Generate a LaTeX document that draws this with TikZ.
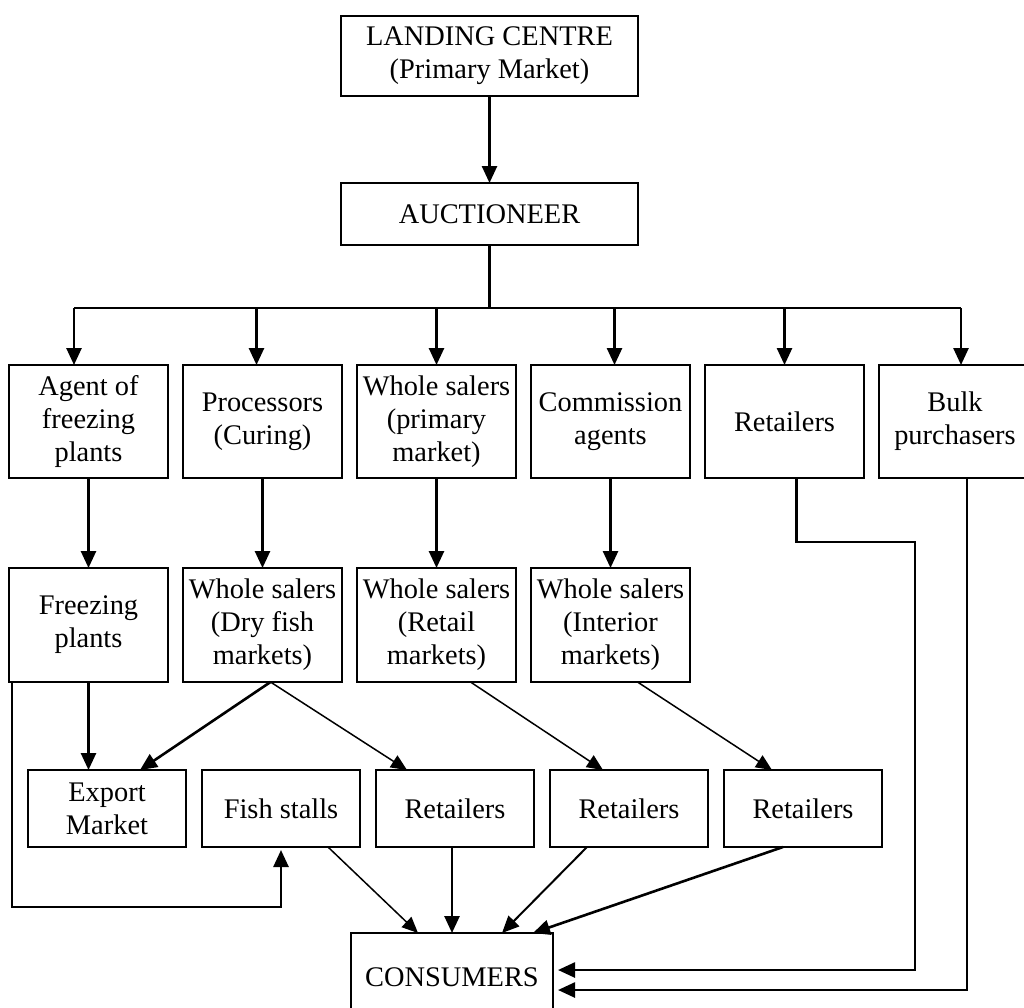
\documentclass[tikz,border=0pt]{standalone}
\usepackage{fontspec}
\setmainfont{Liberation Serif}
\usepackage{tikz}
\usetikzlibrary{positioning, calc, arrows.meta}

\begin{document}
\begin{tikzpicture}[
    x=1pt, y=-1pt,
    nodebox/.style={rectangle, draw, line width=2.2pt, minimum width=159pt,
                    minimum height=113pt, align=center, inner sep=2pt, outer sep=0pt,
                    font=\fontsize{28.4}{33}\selectfont},
    lowbox/.style={nodebox, minimum width=158pt, minimum height=77pt},
    arrow/.style={-{Triangle[length=17pt, width=15pt]}, line width=2.6pt},
    thinarrow/.style={-{Triangle[length=16pt, width=14pt]}, line width=1.5pt},
    line/.style={line width=2.6pt},
  ]
    \useasboundingbox (0,0) rectangle (1024,1007);

    \node[nodebox, minimum width=297pt, minimum height=80pt] (LC) at (489.5,56)
         {LANDING CENTRE\\(Primary Market)};
    \node[nodebox, minimum width=297pt, minimum height=62pt, below=87pt of LC] (AUC) {AUCTIONEER};

    \node[nodebox] (A1) at (88.5,421.5) {Agent of\\freezing\\plants};
    \node[nodebox, right=15pt of A1] (A2) {Processors\\(Curing)};
    \node[nodebox, right=15pt of A2] (A3) {Whole salers\\(primary\\market)};
    \node[nodebox, right=15pt of A3] (A4) {Commission\\agents};
    \node[nodebox, right=15pt of A4] (A5) {Retailers};
    \node[nodebox, minimum width=152pt, right=15pt of A5] (A6) {Bulk\\purchasers};

    \node[nodebox, minimum height=114pt, below=90pt of A1] (C1) {Freezing\\plants};
    \node[nodebox, minimum height=114pt, below=90pt of A2] (C2) {Whole salers\\(Dry fish\\markets)};
    \node[nodebox, minimum height=114pt, below=90pt of A3] (C3) {Whole salers\\(Retail\\markets)};
    \node[nodebox, minimum height=114pt, below=90pt of A4] (C4) {Whole salers\\(Interior\\markets)};

    \node[lowbox] (B1) at (107,808.5) {Export\\Market};
    \node[lowbox, right=16pt of B1] (B2) {Fish stalls};
    \node[lowbox, right=16pt of B2] (B3) {Retailers};
    \node[lowbox, right=16pt of B3] (B4) {Retailers};
    \node[lowbox, right=16pt of B4] (B5) {Retailers};

    \node[nodebox, minimum width=202pt, minimum height=88pt] (CONS) at (452,977) {CONSUMERS};

    \coordinate (BL) at (74,308);
    \coordinate (BR) at (961,308);
    \coordinate (R1) at (915,542);

    \draw[arrow] (LC) -- (AUC);
    \draw[line] (AUC.south) -- (AUC.south |- BL);
    \draw[line] (BL) -- (BR);
    \draw[arrow] (BL) -- (BL |- A1.north);
    \draw[arrow] ([xshift=-6pt]A2.north |- BL) -- ([xshift=-6pt]A2.north);
    \draw[arrow] (A3.north |- BL) -- (A3.north);
    \draw[arrow] ([xshift=4pt]A4.north |- BL) -- ([xshift=4pt]A4.north);
    \draw[arrow] (A5.north |- BL) -- (A5.north);
    \draw[arrow] (BR) -- (BR |- A6.north);

    \draw[arrow] (A1) -- (C1);
    \draw[arrow] (A2) -- (C2);
    \draw[arrow] (A3) -- (C3);
    \draw[arrow] (A4) -- (C4);

    \draw[arrow] (C1.south) -- (C1.south |- B1.north);
    \draw[arrow, shorten >=3pt] ([xshift=3pt]C1.south west) -- ++(0,225) -| (B2.south);
    \draw[arrow] ([xshift=8pt]C2.south) -- ([xshift=33pt]B1.north);
    \draw[thinarrow] ([xshift=8pt]C2.south) -- ([xshift=-48pt]B3.north);
    \draw[thinarrow] ([xshift=34pt]C3.south) -- ([xshift=-26pt]B4.north);
    \draw[thinarrow] ([xshift=27pt]C4.south) -- ([xshift=-31pt]B5.north);

    \draw[thinarrow] ([xshift=47pt]B2.south) -- ([xshift=-34pt]CONS.north);
    \draw[arrow] (CONS.north |- B3.south) -- (CONS.north);
    \draw[arrow, line width=2pt] ([xshift=-42pt]B4.south) -- ([xshift=50pt]CONS.north);
    \draw[arrow] ([xshift=-20pt]B5.south) -- ([xshift=81pt]CONS.north);

    \draw[arrow, shorten >=5pt] ([xshift=12pt]A5.south) |- (R1) |- ([yshift=7pt]CONS.east);
    \draw[arrow, shorten >=5pt] ([xshift=12pt]A6.south) |- ([yshift=-13pt]CONS.east);
  \end{tikzpicture}
\end{document}
